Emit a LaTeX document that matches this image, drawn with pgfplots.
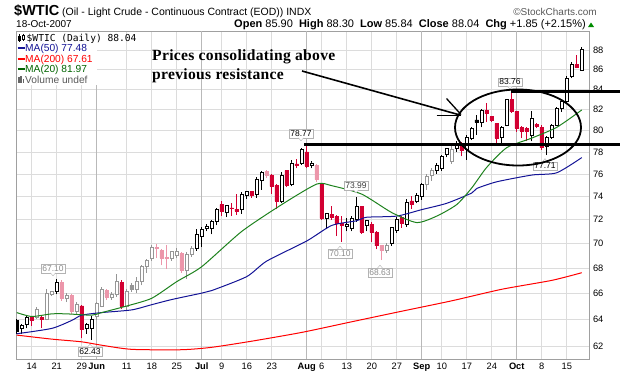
\documentclass[border=0pt]{standalone}
\usepackage{pgfplots}
\pgfplotsset{compat=1.18}
\usepackage{pgfplotstable}
\usepackage{fontspec}
\setmainfont{Liberation Sans}
\newfontfamily\serifb[LetterSpace=2]{Liberation Serif}
\newfontfamily\monof{DejaVu Sans Mono}

\definecolor{cred}{RGB}{210,0,50}
\definecolor{cpink}{RGB}{236,150,170}
\definecolor{cgray}{RGB}{150,150,150}
\definecolor{mablue}{RGB}{20,20,150}
\definecolor{mared}{RGB}{255,0,0}
\definecolor{magreen}{RGB}{30,130,30}
\definecolor{txtgreen}{RGB}{0,100,0}
\definecolor{gridgray}{RGB}{220,220,220}
\definecolor{monthgray}{RGB}{185,185,185}
\definecolor{axisgray}{RGB}{160,160,160}
\definecolor{lblgray}{RGB}{140,140,140}

% candles: index (trading day, 0 = 14 May 2007), open, high, low, close, colour (0 black,1 red,2 grey,3 pink)
\pgfplotstableread{
d o h l c k
-3 63.9 64.0 62.9 63.1 0
-2 63.3 63.6 62.9 63.5 0
-1 63.6 64.3 63.3 64.1 0
0 64.1 64.2 63.5 63.9 1
1 64.1 64.9 64.0 64.75 2
2 64.1 64.2 63.3 63.95 1
3 64.0 66.3 63.9 66.0 2
4 65.9 66.2 65.8 66.1 2
5 66.1 67.1 65.9 66.8 0
6 66.8 67.0 65.4 65.6 3
7 65.6 66.0 65.3 65.8 2
8 65.8 65.9 64.4 64.6 3
9 64.6 65.3 64.3 65.1 2
10 65.0 65.1 62.55 63.2 1
11 63.3 63.7 62.9 63.6 0
12 63.3 64.2 62.43 64.0 0
13 64.2 65.3 63.9 65.2 2
14 65.0 66.5 64.9 66.3 2
15 66.2 66.3 65.5 65.7 3
16 65.7 66.1 65.5 65.9 2
17 65.9 67.5 65.7 66.95 2
18 66.8 67.0 64.8 65.0 1
19 65.0 66.3 64.6 66.1 2
20 66.6 66.8 66.1 66.3 2
21 66.3 67.3 66.0 66.95 2
22 66.95 68.2 66.6 68.1 2
23 68.1 68.7 67.6 68.6 2
24 68.75 69.9 68.6 69.65 2
25 69.65 69.95 68.8 69.55 3
26 69.4 69.5 68.2 68.8 3
27 68.85 69.9 67.9 68.75 3
28 68.8 69.4 68.6 69.3 2
29 69.0 69.6 68.8 69.35 2
30 69.2 69.3 67.6 67.8 3
31 67.8 69.3 67.1 69.1 2
32 69.1 69.8 68.9 69.6 2
33 69.6 71.2 69.4 70.75 0
34 70.6 71.4 69.7 71.15 0
35 71.25 71.6 71.0 71.4 0
36 71.25 72.0 70.75 71.86 0
37 71.86 73.0 71.5 72.86 0
38 73.3 73.6 72.3 72.7 1
39 72.6 73.3 72.2 73.2 0
40 73.0 73.4 72.3 72.95 1
41 72.9 74.2 72.4 72.7 1
42 72.9 74.4 72.5 74.17 0
43 74.1 74.5 73.8 74.4 0
44 74.4 74.5 73.9 74.1 1
45 74.2 75.7 73.9 75.5 0
46 75.4 76.3 74.6 76.1 0
47 76.2 76.4 75.6 75.9 3
48 75.9 76.0 74.2 74.9 1
49 75.0 75.1 72.9 73.6 1
50 73.6 76.2 73.4 75.9 0
51 76.3 76.4 74.8 75.0 1
52 75.05 77.3 74.9 77.0 0
53 76.9 77.4 76.5 76.75 1
54 77.0 78.4 76.8 78.2 0
55 78.0 78.77 76.5 76.7 1
56 76.8 77.2 76.5 77.0 0
57 76.8 76.9 75.3 75.5 3
58 75.05 75.2 72.0 72.1 1
59 72.1 72.6 71.2 72.5 0
60 72.4 73.2 72.0 72.2 1
61 72.3 72.4 70.6 71.7 1
62 71.7 72.3 70.10 71.5 1
63 71.4 72.1 71.0 71.6 0
64 71.25 72.3 71.0 72.1 0
65 72.0 73.99 71.8 73.1 0
66 73.1 73.2 70.8 70.95 1
67 71.5 72.0 71.0 71.9 0
68 71.6 71.8 70.1 70.95 1
69 70.95 71.0 69.5 69.8 1
70 69.8 69.9 68.63 69.4 3
71 69.4 70.0 69.2 69.85 2
72 70.0 71.4 69.8 71.3 0
73 71.05 72.2 70.9 72.0 0
74 72.15 72.3 71.3 71.7 1
75 71.6 73.8 71.4 73.5 0
76 73.6 74.0 72.9 73.3 1
77 73.6 74.3 73.4 74.1 0
78 74.0 75.2 73.7 75.1 0
79 75.1 76.0 74.6 75.8 2
80 75.9 76.5 75.4 76.3 2
81 76.3 77.0 76.0 76.8 0
82 76.5 77.7 76.3 77.6 0
83 77.75 78.4 77.5 78.3 0
84 77.1 78.7 76.9 78.2 2
85 78.3 79.0 78.0 78.8 0
86 78.7 78.9 77.6 78.1 1
87 78.2 79.6 77.3 79.4 0
88 79.3 80.3 79.1 80.2 0
89 81.0 81.5 79.6 80.75 0
90 80.8 82.1 80.3 81.9 0
91 81.9 82.6 80.8 81.6 1
92 81.3 81.4 80.8 80.95 1
93 80.65 80.7 78.8 79.3 1
94 79.35 80.4 78.8 80.3 0
95 80.5 83.0 80.4 82.96 0
96 82.96 83.76 81.7 81.8 1
97 81.8 81.9 79.9 80.2 1
98 80.3 80.4 79.3 79.95 1
99 80.2 80.3 79.0 79.9 1
100 79.55 81.9 79.0 81.2 0
101 80.6 80.7 80.2 80.4 1
102 80.3 80.5 78.2 78.4 1
103 78.5 79.5 77.71 79.35 0
104 79.4 80.6 79.2 80.5 0
105 80.5 82.3 80.4 82.1 0
106 82.1 83.0 81.8 82.8 0
107 82.8 85.3 82.6 85.1 0
108 85.3 86.8 85.1 86.5 0
109 86.5 87.5 86.1 86.19 1
110 85.90 88.30 85.84 88.04 0
}\ohlc

\pgfplotstableread{
d v
-3 62.9
4 63.3
8 63.9
10 64.3
14 64.5
20 64.7
24 65.1
28 65.5
34 66.0
36 66.2
43 67.3
47 68.55
55 70.2
60 71.5
65 71.9
67 72.2
73 72.3
78 72.86
83 73.4
88 74.3
89 74.7
93 75.3
100 75.9
105 76.1
110 77.48
}\maFifty

\pgfplotstableread{
d v
-3 62.8
4 62.5
10 62.3
14 62.05
20 61.75
30 61.72
36 61.9
44 62.35
54 63.0
64 63.8
74 64.6
84 65.4
94 66.3
104 67.0
110 67.61
}\maTwoHundred

\pgfplotstableread{
d v
-3 64.5
0 64.2
4 64.4
7 64.4
12 64.3
14 64.5
19 65.0
24 65.6
29 66.9
34 68.1
42 71.0
50 73.3
57 75.1
60 74.95
66 74.2
72 72.6
77 71.75
81 72.3
85 73.3
88 74.75
91 76.6
95 78.4
100 79.3
105 80.3
110 81.97
}\maTwenty

\tikzset{vlab/.style={draw=axisgray!80, fill=white, inner xsep=1.5pt, inner ysep=1.2pt,
  font=\fontsize{8.5}{9}\selectfont}}
\newcommand\vlabA[4]{% label above the bar, pointer down
  \node[vlab, text=#4] (tmp) at (#1pt,-#2pt) {#3};
  \draw[axisgray!80, fill=white] ([xshift=-2.5pt]tmp.south) -- ([yshift=-3pt]tmp.south) -- ([xshift=2.5pt]tmp.south);}
\newcommand\vlabB[4]{% label below the bar, pointer up
  \node[vlab, text=#4] (tmp) at (#1pt,-#2pt) {#3};
  \draw[axisgray!80, fill=white] ([xshift=-2.5pt]tmp.north) -- ([yshift=3pt]tmp.north) -- ([xshift=2.5pt]tmp.north);}

\begin{document}
\begin{tikzpicture}
\path[use as bounding box] (0pt,0pt) rectangle (620pt,-376pt);
\begin{axis}[
  name=ax, at={(16pt,-31pt)}, anchor=north west,
  scale only axis, width=573pt, height=328pt,
  xmin=-3.15, xmax=111.45,
  ymode=log, ymin=61.05, ymax=90.0,
  axis line style={draw=axisgray, line width=0.8pt},
  grid=major, major grid style={draw=gridgray, line width=0.7pt},
  major tick length=0pt, tick style={draw=none},
  ytick={62,64,66,68,70,72,74,76,78,80,82,84,86,88},
  yticklabels={62,64,66,68,70,72,74,76,78,80,82,84,86,88},
  yticklabel pos=right,
  yticklabel style={font=\fontsize{9.3}{10}\selectfont, xshift=0.5pt},
  xtick={0,5,10,19,24,29,38,43,48,58,63,68,73,82,87,92,102,107},
  xticklabels={14,21,29,11,18,25,9,16,23,6,13,20,27,10,17,24,8,15},
  extra x ticks={13,34,55,78,97},
  extra x tick labels={\textbf{Jun},\textbf{Jul},\textbf{Aug},\textbf{Sep},\textbf{Oct}},
  extra x tick style={grid=major, major grid style={draw=monthgray, line width=0.8pt}},
  xticklabel style={font=\fontsize{9.3}{10}\selectfont, yshift=-0.5pt},
  /pgf/number format/assume math mode=true,
]
% candles
\pgfplotsforeachungrouped \i in {0,...,113}{%
  \pgfplotstablegetelem{\i}{d}\of\ohlc \let\candD=\pgfplotsretval
  \pgfplotstablegetelem{\i}{o}\of\ohlc \let\candO=\pgfplotsretval
  \pgfplotstablegetelem{\i}{h}\of\ohlc \let\candH=\pgfplotsretval
  \pgfplotstablegetelem{\i}{l}\of\ohlc \let\candL=\pgfplotsretval
  \pgfplotstablegetelem{\i}{c}\of\ohlc \let\candC=\pgfplotsretval
  \pgfplotstablegetelem{\i}{k}\of\ohlc \let\candK=\pgfplotsretval
  \pgfmathsetmacro\xa{\candD-0.37}%
  \pgfmathsetmacro\xb{\candD+0.37}%
  \ifcase\candK\relax \def\col{black}\or\def\col{cred}\or\def\col{cgray}\else\def\col{cpink}\fi
  \pgfmathtruncatemacro\up{\candC>\candO ? 1 : 0}%
  \ifnum\up=1 \def\fil{white}\else\edef\fil{\col}\fi
  \edef\tmp{%
    \noexpand\addplot[draw=\col, line width=0.8pt, forget plot] coordinates {(\candD,\candL) (\candD,\candH)};
    \noexpand\addplot[draw=\col, fill=\fil, line width=0.8pt, forget plot] coordinates {(\xa,\candO) (\xb,\candO) (\xb,\candC) (\xa,\candC) (\xa,\candO)};
  }\tmp
}
% moving averages
\addplot[mared, line width=1pt, smooth, tension=0.4] table[x=d,y=v] {\maTwoHundred};
\addplot[mablue, line width=1pt, smooth, tension=0.4] table[x=d,y=v] {\maFifty};
\addplot[magreen, line width=1pt, smooth, tension=0.4] table[x=d,y=v] {\maTwenty};
\end{axis}

% header
\node[anchor=base west, inner sep=0pt] at (14pt,-15pt)
  {{\fontsize{14.5}{16}\selectfont\bfseries \$WTIC}\fontsize{10.5}{12}\selectfont\ (Oil - Light Crude - Continuous Contract (EOD))\ INDX};
\node[anchor=base east, inner sep=0pt, text=black!65] at (597pt,-15pt)
  {\fontsize{10}{12}\selectfont \textcopyright StockCharts.com};
\node[anchor=base west, inner sep=0pt] at (16pt,-27.5pt)
  {\fontsize{10}{12}\selectfont 18-Oct-2007};
\node[anchor=base east, inner sep=0pt] at (586pt,-27.5pt)
  {\fontsize{11}{12}\selectfont \textbf{Open} 85.90\ \ \textbf{High} 88.30\ \ \textbf{Low} 85.84\ \ \textbf{Close} 88.04\ \ \textbf{Chg} +1.85 (+2.15\%)};
\fill[green!55!black] (588pt,-27pt) -- (594pt,-27pt) -- (591pt,-22.5pt) -- cycle;

% legend
\fill[white] (16.5pt,-31.5pt) rectangle (97pt,-85pt);
\fill[white] (97pt,-31.5pt) rectangle (124pt,-43pt);
\draw[black, line width=0.7pt] (19.5pt,-34pt) -- (19.5pt,-42pt);
\draw[black, fill=black, line width=0.5pt] (18.3pt,-36pt) rectangle (20.7pt,-40pt);
\draw[black, line width=0.7pt] (23pt,-33.5pt) -- (23pt,-41pt);
\draw[black, fill=white, line width=0.5pt] (21.8pt,-35pt) rectangle (24.2pt,-39pt);
\node[anchor=base west, inner sep=0pt] at (26.5pt,-41pt) {\monof\fontsize{9.6}{10}\selectfont \$WTIC (Daily) 88.04};
\draw[mablue, line width=2pt] (17.5pt,-48pt) -- (24.5pt,-48pt);
\node[anchor=base west, inner sep=0pt, text=mablue] at (25pt,-51.5pt) {\fontsize{10.2}{11}\selectfont MA(50) 77.48};
\draw[mared, line width=2pt] (17.5pt,-58.5pt) -- (24.5pt,-58.5pt);
\node[anchor=base west, inner sep=0pt, text=mared] at (25pt,-62pt) {\fontsize{10.2}{11}\selectfont MA(200) 67.61};
\draw[txtgreen, line width=2pt] (17.5pt,-69pt) -- (24.5pt,-69pt);
\node[anchor=base west, inner sep=0pt, text=txtgreen] at (25pt,-72.5pt) {\fontsize{10.2}{11}\selectfont MA(20) 81.97};
\fill[black!60] (18pt,-83pt) rectangle (19.5pt,-77pt);
\fill[black!60] (20.3pt,-83pt) rectangle (21.8pt,-75.5pt);
\fill[black!60] (22.6pt,-83pt) rectangle (24.1pt,-78.5pt);
\node[anchor=base west, inner sep=0pt, text=black!65] at (25pt,-83pt) {\fontsize{10.2}{11}\selectfont Volume undef};

% value labels
\vlabA{53}{268.5}{67.10}{lblgray}
\vlabB{90}{351.5}{62.43}{black}
\vlabA{301}{133.5}{78.77}{black}
\vlabA{356}{185.5}{73.99}{black!75}
\vlabB{340}{253.5}{70.10}{lblgray}
\vlabB{380}{272.5}{68.63}{lblgray}
\vlabA{510}{82}{83.76}{black}
\vlabB{545}{166}{77.71}{black}

% annotations
\draw[black, line width=2.3pt] (304pt,-144.5pt) -- (620pt,-144.5pt);
\draw[black, line width=2.3pt] (511pt,-91.5pt) -- (620pt,-91.5pt);
\draw[black, line width=1.8pt] (518pt,-127.5pt) ellipse [x radius=63pt, y radius=38pt];
\draw[black, line width=1.6pt] (302pt,-71pt) -- (460pt,-115pt);
\draw[black, line width=1.3pt] (446.5pt,-98.5pt) -- (461pt,-114.5pt);
\draw[black, line width=1.6pt] (436.5pt,-115.5pt) -- (461pt,-115.5pt);
\node[anchor=base west, inner sep=0pt, align=left] at (152pt,-60.5pt)
  {\serifb\bfseries\fontsize{15.6}{18.5}\selectfont Prices consolidating above};
\node[anchor=base west, inner sep=0pt, align=left] at (152pt,-79pt)
  {\serifb\bfseries\fontsize{15.6}{18.5}\selectfont previous resistance};
\end{tikzpicture}
\end{document}
